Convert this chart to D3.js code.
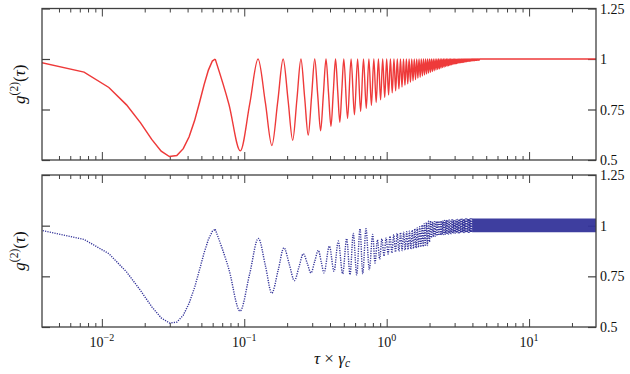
<!DOCTYPE html>
<html><head><meta charset="utf-8">
<script src="https://cdn.jsdelivr.net/npm/d3@7"></script>
<style>body{margin:0;background:#fff}svg{display:block}</style>
</head><body>
<svg id="c" width="630" height="374"></svg>
<script>
// ---------------- data ----------------
const xDomain = [0.0038, 29.5];
const yDomain = [0.5, 1.25];
const yTicks = [0.5, 0.75, 1, 1.25];
const yTickLabels = ["0.5", "0.75", "1", "1.25"];
const xMajor = [0.01, 0.1, 1, 10];
const xMajorExp = ["\u22122", "\u22121", "0", "1"];

// top (red) – coarse samples at the start
const topEarlyTau = [0.0037,0.0075,0.0112,0.0149,0.0187,0.0224,0.0261,0.0298,0.0336,0.0373,0.0410,0.0448,0.0485,0.0522,0.0560,0.0597,0.0625];
const topEarlyG2  = [0.983,0.935,0.859,0.773,0.684,0.602,0.544,0.517,0.522,0.556,0.615,0.695,0.785,0.872,0.945,0.990,1.0];
// top (red) – oscillation extrema
const topTau = [0.0625,0.0781,0.0938,0.1094,0.125,0.1406,0.1563,0.1719,0.1875,0.2031,0.2188,0.2344,0.25,0.2656,0.2813,0.2969,0.3125,0.3281,0.3438,0.3594,0.375,0.3906,0.4063,0.4219,0.4375,0.4531,0.4688,0.4844,0.5,
0.5313,0.5625,0.5938,0.625,0.6563,0.6875,0.7188,0.75,0.7813,0.8125,0.8438,0.875,0.9063,0.9375,0.9688,1,1.0313,1.0625,1.0938,1.125,1.1563,1.1875,1.2188,1.25,1.2813,1.3125,1.3438,1.375,1.4063,1.4375,1.4688,1.5,1.5313,1.5625,1.5938,1.625,1.6563,1.6875,1.7188,1.75,1.7813,1.8125,1.8438,1.875,1.9063,1.9375,1.9688,2,
2.0313,2.0625,2.0938,2.125,2.1563,2.1875,2.2188,2.25,2.2813,2.3125,2.3438,2.375,2.4063,2.4375,2.4688,2.5,2.5313,2.5625,2.5938,2.625,2.6563,2.6875,2.7188,2.75,2.7813,2.8125,2.8438,2.875,2.9063,2.9375,2.9688,3,
3.0313,3.0625,3.0938,3.125,3.1563,3.1875,3.2188,3.25,3.2813,3.3125,3.3438,3.375,3.4063,3.4375,3.4688,3.5,3.5313,3.5625,3.5938,3.625,3.6563,3.6875,3.7188,3.75,3.7813,3.8125,3.8438,3.875,3.9063,3.9375,3.9688,4,
4.0313,4.0625,4.0938,4.125,4.1563,4.1875,4.2188,4.25,4.2813,4.3125,4.3438,4.375,4.4063,4.4375,4.4688,4.5,6,10,29.5];
const topG2 = [1,0.775,0.545,0.780,1,0.785,0.572,0.790,1,0.796,0.598,0.802,1,0.808,0.623,0.814,1,0.820,0.645,0.825,1,0.831,0.667,0.836,1,0.841,0.687,0.846,1,
0.706,1,0.724,1,0.741,1,0.756,1,0.771,1,0.785,1,0.798,1,0.810,1,0.822,1,0.833,1,0.843,1,0.852,1,0.861,1,0.870,1,0.877,1,0.885,1,0.892,1,0.898,1,0.905,1,0.910,1,0.916,1,0.921,1,0.926,1,0.930,1,
0.934,1,0.938,1,0.942,1,0.946,1,0.949,1,0.952,1,0.955,1,0.958,1,0.960,1,0.963,1,0.965,1,0.967,1,0.969,1,0.971,1,0.973,1,0.974,1,
0.976,1,0.977,1,0.979,1,0.980,1,0.981,1,0.982,1,0.983,1,0.984,1,0.985,1,0.986,1,0.987,1,0.988,1,0.989,1,0.989,1,0.990,1,0.991,1,
0.991,1,0.992,1,0.992,1,0.993,1,0.993,1,0.994,1,0.994,1,0.995,1,1,1,1];

// bottom (blue dotted) – coarse samples at the start
const botEarlyTau = [0.0037,0.0075,0.0112,0.0149,0.0187,0.0224,0.0261,0.0298,0.0336,0.0373,0.0410,0.0448,0.0485,0.0522,0.0560,0.0597,0.0625];
const botEarlyG2  = [0.978,0.932,0.862,0.772,0.680,0.600,0.545,0.520,0.524,0.558,0.617,0.695,0.782,0.865,0.932,0.972,0.982];
// bottom – oscillation extrema
const botTau = [0.0625,0.078,0.0934,0.109,0.1256,0.141,0.156,0.173,0.190,0.207,0.225,0.242,0.260,0.277,0.294,0.312,0.331,0.347,0.363,0.396,0.427,0.457,0.491,0.524,0.553,0.583,0.616,0.650,0.679,0.716,0.755,0.798,0.828,
0.861,0.893,0.926,0.958,0.991,1.023,1.056,1.088,1.121,1.153,1.186,1.218,1.251,1.283,1.316,1.348,1.381,1.413,1.446,1.478,1.511,1.543,1.576,1.608,1.641,1.673,1.706,1.738,1.771,1.803,1.836,1.868,1.901,1.933,1.966,1.998,
2.031,2.063,2.096,2.128,2.161,2.193,2.226,2.258,2.291,2.323,2.356,2.388,2.421,2.453,2.486,2.518,2.551,2.583,2.616,2.648,2.681,2.713,2.746,2.778,2.811,2.843,2.876,2.908,2.941,2.973,
3.006,3.038,3.071,3.103,3.136,3.168,3.201,3.233,3.266,3.298,3.331,3.363,3.396,3.428,3.461,3.493,3.526,3.558,3.591,3.623,3.656,3.688,3.721,3.753,3.786,3.818,3.851,3.883,3.916,3.948,3.981];
const botG2 = [0.982,0.785,0.579,0.760,0.937,0.800,0.667,0.780,0.891,0.810,0.729,0.795,0.861,0.814,0.767,0.822,0.878,0.822,0.767,0.899,0.775,0.924,0.763,0.936,0.758,0.962,0.758,0.985,0.763,0.985,0.783,0.957,0.816,
0.930,0.835,0.935,0.850,0.940,0.860,0.948,0.865,0.955,0.870,0.962,0.874,0.966,0.877,0.968,0.880,0.970,0.882,0.973,0.884,0.978,0.887,0.985,0.890,0.990,0.893,0.995,0.895,1.003,0.897,1.010,0.899,1.015,0.902,1.022,0.920,
1.024,0.940,1.020,0.945,1.020,0.948,1.022,0.950,1.022,0.952,1.023,0.953,1.024,0.955,1.025,0.956,1.026,0.957,1.027,0.958,1.027,0.959,1.028,0.960,1.028,0.961,1.029,0.962,1.029,0.963,
1.030,0.963,1.030,0.964,1.031,0.964,1.031,0.965,1.032,0.965,1.032,0.966,1.032,0.966,1.033,0.966,1.033,0.967,1.033,0.967,1.033,0.967,1.034,0.967,1.034,0.968,1.034,0.968,1.034,0.968,1.034];
// bottom – saturated dense band at long delays
const botBandTau = [3.981, 6, 10, 20, 29.5];
const botBandHi  = [1.035, 1.035, 1.035, 1.035, 1.035];
const botBandLo  = [0.967, 0.967, 0.967, 0.967, 0.967];

// ---------------- drawing ----------------
const svg = d3.select("#c");
const FONT = "'Liberation Serif','DejaVu Serif',serif";
const L = 42, R = 596;
const panels = [{top: 8.5, bottom: 160}, {top: 175, bottom: 327}];
const x = d3.scaleLog().domain(xDomain).range([L, R]);
const frameColor = "#404040";

const minor = [];
for (let e = -3; e <= 1; e++) for (let m = 2; m <= 9; m++) {
  const v = m * Math.pow(10, e);
  if (v > xDomain[0] * 1.06 && v < xDomain[1]) minor.push(v);
}

function drawPanel(p) {
  const y = d3.scaleLinear().domain(yDomain).range([p.bottom, p.top]);
  const g = svg.append("g");
  const addX = (vals, len, top) => {
    const ax = (top ? d3.axisTop(x) : d3.axisBottom(x)).tickValues(vals).tickSize(-len).tickFormat("");
    const gg = g.append("g").attr("transform", `translate(0,${top ? p.top : p.bottom})`).call(ax);
    gg.select(".domain").remove();
    gg.selectAll("line").attr("stroke", frameColor).attr("stroke-width", 1);
  };
  addX(minor, 4, false); addX(minor, 4, true);
  addX(xMajor, 8, false); addX(xMajor, 8, true);
  const addY = (right) => {
    const ax = (right ? d3.axisRight(y) : d3.axisLeft(y)).tickValues(yTicks).tickSize(-8).tickFormat("");
    const gg = g.append("g").attr("transform", `translate(${right ? R : L},0)`).call(ax);
    gg.select(".domain").remove();
    gg.selectAll("line").attr("stroke", frameColor).attr("stroke-width", 1.2);
  };
  addY(false); addY(true);
  g.selectAll("text.yl").data(yTicks).enter().append("text")
    .attr("x", R + 4).attr("y", d => y(d)).attr("dy", "0.36em")
    .attr("font-family", FONT).attr("font-size", 14).attr("fill", "#111")
    .text((d, i) => yTickLabels[i]);
  const yl = g.append("text")
    .attr("transform", `translate(25,${(p.top + p.bottom) / 2}) rotate(-90)`)
    .attr("text-anchor", "middle").attr("font-family", FONT).attr("font-size", 17).attr("fill", "#111");
  yl.append("tspan").attr("font-style", "italic").text("g");
  yl.append("tspan").attr("font-size", 11.5).attr("dy", -7).text("(2)");
  yl.append("tspan").attr("dy", 7).text("(");
  yl.append("tspan").attr("font-style", "italic").text("\u03C4");
  yl.append("tspan").text(")");
  return {g, y};
}

// top panel
const P1 = drawPanel(panels[0]);
svg.append("clipPath").attr("id", "cl1").append("rect")
  .attr("x", L).attr("y", panels[0].top).attr("width", R - L).attr("height", panels[0].bottom - panels[0].top);
const red = "#ee3a3a";
const lineLin1 = d3.line().x(d => x(d[0])).y(d => P1.y(d[1])).curve(d3.curveLinear);
const lineMon1 = d3.line().x(d => x(d[0])).y(d => P1.y(d[1])).curve(d3.curveMonotoneX);
const g1 = svg.append("g").attr("clip-path", "url(#cl1)");
g1.append("path").datum(topEarlyTau.map((t, i) => [t, topEarlyG2[i]]))
  .attr("d", lineLin1).attr("fill", "none").attr("stroke", red).attr("stroke-width", 1.5);
g1.append("path").datum(topTau.map((t, i) => [t, topG2[i]]))
  .attr("d", lineMon1).attr("fill", "none").attr("stroke", red).attr("stroke-width", 1.4);

// bottom panel
const P2 = drawPanel(panels[1]);
svg.append("clipPath").attr("id", "cl2").append("rect")
  .attr("x", L).attr("y", panels[1].top).attr("width", R - L).attr("height", panels[1].bottom - panels[1].top);
const blue = "#34349a";
const lineLin2 = d3.line().x(d => x(d[0])).y(d => P2.y(d[1])).curve(d3.curveLinear);
const lineMon2 = d3.line().x(d => x(d[0])).y(d => P2.y(d[1])).curve(d3.curveMonotoneX);
const g2 = svg.append("g").attr("clip-path", "url(#cl2)");
g2.append("path").datum(botEarlyTau.map((t, i) => [t, botEarlyG2[i]]))
  .attr("d", lineLin2).attr("fill", "none").attr("stroke", blue).attr("stroke-width", 1.4).attr("stroke-dasharray", "1.2,1.2");
g2.append("path").datum(botTau.map((t, i) => [t, botG2[i]]))
  .attr("d", lineMon2).attr("fill", "none").attr("stroke", blue).attr("stroke-width", 1.4).attr("stroke-dasharray", "1.2,1.2");
g2.append("path").datum(botBandTau.map((t, i) => [t, botBandLo[i], botBandHi[i]]))
  .attr("d", d3.area().x(d => x(d[0])).y0(d => P2.y(d[1])).y1(d => P2.y(d[2])))
  .attr("fill", blue).attr("opacity", 0.95);

// frames
panels.forEach(p => {
  svg.append("rect").attr("x", L).attr("y", p.top).attr("width", R - L).attr("height", p.bottom - p.top)
    .attr("fill", "none").attr("stroke", frameColor).attr("stroke-width", 1.3);
});

// x tick labels
const xl = svg.selectAll("text.xt").data(xMajor).enter().append("text")
  .attr("x", d => x(d)).attr("y", 347).attr("text-anchor", "middle")
  .attr("font-family", FONT).attr("font-size", 14).attr("fill", "#111");
xl.append("tspan").text("10");
xl.append("tspan").attr("font-size", 10).attr("dy", -6).text((d, i) => xMajorExp[i]);

// x label
const xlab = svg.append("text").attr("x", 332).attr("y", 364).attr("text-anchor", "middle")
  .attr("font-family", FONT).attr("font-size", 17).attr("fill", "#111");
xlab.append("tspan").attr("font-style", "italic").text("\u03C4");
xlab.append("tspan").text(" \u00D7 ");
xlab.append("tspan").attr("font-style", "italic").text("\u03B3");
xlab.append("tspan").attr("font-style", "italic").attr("font-size", 11.5).attr("dy", 3).text("c");
</script>
</body></html>
